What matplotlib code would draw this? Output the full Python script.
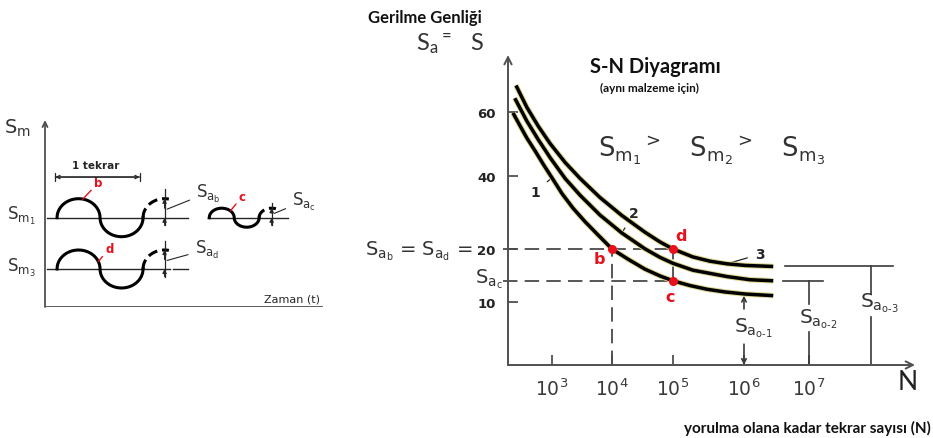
import numpy as np
import matplotlib
matplotlib.use("Agg")
import matplotlib.pyplot as plt
from matplotlib import patheffects as pe

plt.rcParams["mathtext.default"] = "regular"
plt.rcParams["font.family"] = "DejaVu Sans"

W, H = 933, 439
INK = "#262626"
AXIS = "#505050"
RED = "#e8101a"
SANS2 = "Lato"

# ---------------- S-N diagram data: log10(N) and stress amplitude ----------------
curve1_logN = [2.35, 2.47, 2.58, 2.72, 2.85, 3.00, 3.17, 3.35, 3.55, 3.77, 4.00,
               4.26, 4.54, 4.79, 5.00, 5.24, 5.48, 5.73, 6.02, 6.45]
curve1_S = [59.7, 55.6, 51.9, 47.8, 43.8, 39.5, 35.1, 31.2, 27.5, 23.8, 20.0,
            18.1, 16.2, 14.9, 14.0, 13.1, 12.4, 11.9, 11.5, 11.2]
curve2_logN = [2.38, 2.58, 2.77, 2.97, 3.22, 3.47, 3.80, 4.16, 4.54, 4.79, 5.00,
               5.28, 5.76, 6.09, 6.45]
curve2_S = [64.3, 57.2, 51.4, 45.7, 39.3, 34.7, 29.3, 24.4, 20.05, 18.4, 17.3,
            16.0, 14.8, 14.2, 14.0]
curve3_logN = [2.40, 2.58, 2.77, 2.97, 3.22, 3.47, 3.80, 4.16, 4.54, 4.79, 5.00,
               5.28, 5.52, 5.76, 6.02, 6.45]
curve3_S = [68.3, 61.5, 55.6, 50.1, 44.2, 39.3, 34.1, 29.2, 24.6, 21.9, 20.0,
            18.5, 17.7, 17.2, 16.9, 16.7]
curve_names = ["1", "2", "3"]

point_names = ["b", "d", "c"]
point_logN = [4.0, 5.0, 5.0]
point_S = [20.0, 20.0, 14.0]

endurance_logN = [6.0, 7.0, 7.95]
endurance_S = [11.2, 14.0, 16.7]
endurance_names = [r"$S_{a_{o\text{-}1}}$", r"$S_{a_{o\text{-}2}}$", r"$S_{a_{o\text{-}3}}$"]

x_tick_exps = [3, 4, 5, 6, 7]
y_ticks = [10, 20, 40, 60]

# ---------------- time-history sketch data (schematic units) ----------------
wave_names = ["b", "d", "c"]
wave_mean = [4.7, 2.0, 4.7]
wave_amp = [1.0, 1.0, 0.5]
wave_period = [1.0, 1.0, 0.58]
wave_start = [0.14, 0.14, 1.91]


def fxy(px, py):
    return px / W, 1 - py / H


fig = plt.figure(figsize=(W / 100, H / 100), dpi=100)

# ======================= right: S-N diagram =======================
# non-uniform schematic axis spacing
E_NODES = np.array([2, 3, 4, 5, 6, 7, 8, 9], float)
EX_NODES = np.array([492, 552, 612, 673, 744, 809, 874, 939], float)
S_NODES = np.array([0, 10, 20, 40, 60, 100], float)
SU_NODES = np.array([0, 63, 116, 189, 253, 381], float)

ax = fig.add_axes([508 / W, 1 - 366 / H, (915 - 508) / W, (366 - 56) / H])
ax.set_xscale("function", functions=(lambda e: np.interp(e, E_NODES, EX_NODES),
                                     lambda p: np.interp(p, EX_NODES, E_NODES)))
ax.set_yscale("function", functions=(lambda s: np.interp(s, S_NODES, SU_NODES),
                                     lambda u: np.interp(u, SU_NODES, S_NODES)))
ax.set_xlim(2.267, 8.631)
ax.set_ylim(0, 77.8)
for sp in ax.spines.values():
    sp.set_visible(False)
ax.patch.set_alpha(0)

arrow_kw = dict(arrowstyle="->", color=AXIS, lw=1.4, shrinkA=0, shrinkB=0, mutation_scale=13)
ax.annotate("", xy=(1, 0), xytext=(0, 0), xycoords="axes fraction", arrowprops=arrow_kw)
ax.annotate("", xy=(0, 1), xytext=(0, 0), xycoords="axes fraction", arrowprops=arrow_kw)

ax.set_xticks(x_tick_exps)
ax.set_xticklabels([rf"$10^{{{e}}}$" for e in x_tick_exps])
ax.tick_params(axis="x", direction="in", length=7, width=1.3, color=AXIS,
               pad=9, labelsize=13.5, labelcolor="#3a3a3a")
ax.set_yticks(y_ticks)
ax.set_yticklabels([str(v) for v in y_ticks], fontweight="bold")
ax.tick_params(axis="y", direction="in", length=7, width=1.3, color=AXIS,
               pad=9, labelsize=9.5, labelcolor="#222222")

# dashed guide lines to b, d, c
dash = dict(color="#4a4a4a", lw=1.3, linestyle=(0, (8, 4)), clip_on=False)
ax.plot([2.18, point_logN[1]], [point_S[0], point_S[1]], **dash)
ax.plot([2.18, point_logN[2]], [point_S[2], point_S[2]], **dash)
ax.plot([point_logN[0], point_logN[0]], [0, point_S[0]], **dash)
ax.plot([point_logN[1], point_logN[2]], [point_S[2], point_S[1]], **dash)

# S-N curves
glow = [pe.Stroke(linewidth=3.9, foreground="#ddd48c"), pe.Normal()]
curves = [(curve1_logN, curve1_S), (curve2_logN, curve2_S), (curve3_logN, curve3_S)]
for xs, ys in curves:
    ax.plot(xs, ys, color="black", lw=2.5, solid_capstyle="butt",
            solid_joinstyle="round", path_effects=glow, zorder=4)

# curve numbers with leader lines
num_xy = [(curve1_logN[5], curve1_S[5]), (curve2_logN[7], curve2_S[7]), (curve3_logN[13], curve3_S[13])]
num_off = [(-12, -10), (9, 14), (24, 7)]
for name, xy, off in zip(curve_names, num_xy, num_off):
    ax.annotate(name, xy=xy, xytext=off, textcoords="offset points", fontsize=10,
                fontweight="bold", color=INK, ha="center", va="center",
                arrowprops=dict(arrowstyle="-", color=INK, lw=0.9, shrinkA=4, shrinkB=1))

# marked points
ax.plot(point_logN, point_S, "o", color=RED, ms=5.5, zorder=5, clip_on=False)
pt_off = [(-9, -7), (6, 10), (-2, -11)]
for name, x, y, off in zip(point_names, point_logN, point_S, pt_off):
    ax.annotate(name, xy=(x, y), xytext=off, textcoords="offset points", fontsize=11.5,
                fontweight="bold", color=RED, ha="center", va="center")

# endurance limits
bar_ranges = [None, (6.6, 7.215), (6.63, 8.29)]
gaps = [(8.9, 3.3), (9.7, 5.2), (11.5, 7.6)]
lab_pos = [(6.14, 6.0), (7.14, 7.5), (8.08, 10.0)]
thin = dict(color="#3a3a3a", lw=1.2)
for i, (e, s) in enumerate(zip(endurance_logN, endurance_S)):
    if bar_ranges[i] is not None:
        ax.plot(bar_ranges[i], [s, s], clip_on=False, **thin)
    top, bot = gaps[i]
    if i == 0:
        ax.annotate("", xy=(e, s), xytext=(e, top),
                    arrowprops=dict(arrowstyle="->", shrinkA=0, shrinkB=0, mutation_scale=8, **thin))
        ax.annotate("", xy=(e, 0), xytext=(e, bot),
                    arrowprops=dict(arrowstyle="->", shrinkA=0, shrinkB=0, mutation_scale=8, **thin))
    else:
        ax.plot([e, e], [s, top], **thin)
        ax.plot([e, e], [bot, 0], **thin)
    ax.text(lab_pos[i][0], lab_pos[i][1], endurance_names[i], fontsize=14.5,
            color="#333333", ha="center", va="center", clip_on=False)

# right-panel titles and labels
fig.text(*fxy(425, 18), "Gerilme Genliği", family=SANS2, fontweight="bold",
         fontsize=12, color="#111111", ha="center", va="center")
fig.text(*fxy(416, 44), r"$S_{a}{}^{=}\ \ S$", family=SANS2, fontsize=17,
         color="#333333", ha="left", va="center")
fig.text(*fxy(590, 67), "S-N Diyagramı", family=SANS2, fontweight="bold",
         fontsize=14.5, color="#111111", ha="left", va="center")
fig.text(*fxy(600, 88), "(aynı malzeme için)", family=SANS2, fontweight="bold",
         fontsize=8.5, color="#111111", ha="left", va="center")
fig.text(*fxy(598, 150), r"$S_{m_1}{}^{>}\ \ \ S_{m_2}{}^{>}\ \ \ S_{m_3}$",
         fontsize=18.5, color="#333333", ha="left", va="center")
fig.text(*fxy(472, 251), r"$S_{a_b}$ = $S_{a_d}$ =", fontsize=14, color="#333333",
         ha="right", va="center")
fig.text(*fxy(503, 279), r"$S_{a_c}$", fontsize=14, color="#333333",
         ha="right", va="center")
fig.text(*fxy(908, 383), "N", family=SANS2, fontsize=19, color="#222222",
         ha="center", va="center")
fig.text(*fxy(931, 428), "yorulma olana kadar tekrar sayısı (N)", family=SANS2,
         fontweight="bold", fontsize=11, color="#111111", ha="right", va="center")

# ======================= left: stress-time sketch =======================
axl = fig.add_axes([45 / W, 1 - 308 / H, (340 - 45) / W, (308 - 100) / H])
axl.set_xlim(0, 295 / 86)
axl.set_ylim(0, 208 / 19)
axl.axis("off")
axl.annotate("", xy=(0, 9.84), xytext=(0, 0),
             arrowprops=dict(arrowstyle="->", color=AXIS, lw=1.3, shrinkA=0, shrinkB=0, mutation_scale=9))
axl.plot([0, 3.22], [0, 0], color=AXIS, lw=1.3)


def wave_y(t, t0, period, amp, mean):
    phase = (t - t0) / (period / 2)
    k = np.floor(phase)
    frac = phase - k
    sign = np.where(k % 2 == 0, 1.0, -1.0)
    return mean + sign * amp * np.sqrt(np.clip(1 - (2 * frac - 1) ** 2, 0, 1))


base_ranges = [(0.02, 1.66), (0.02, 1.45), (1.895, 2.83)]
wave_lw = 2.2
for i in range(3):
    t0, per, amp, m = wave_start[i], wave_period[i], wave_amp[i], wave_mean[i]
    b0, b1 = base_ranges[i]
    axl.plot([b0, b1], [m, m], color=INK, lw=1.0)
    if i == 1:
        axl.plot([1.49, 1.66], [m, m], color=INK, lw=1.0)
    t = np.linspace(t0, t0 + per, 400)
    axl.plot(t, wave_y(t, t0, per, amp, m), color="black", lw=wave_lw)
    t2 = np.linspace(t0 + per, t0 + 1.25 * per + 0.05, 80)
    axl.plot(t2, wave_y(t2, t0, per, amp, m), color="black", lw=wave_lw,
             linestyle=(0, (3.2, 1.6)))
    tp = t0 + 1.25 * per
    axl.plot([tp, tp], [m - 0.4, m + 1.5 * amp], color=INK, lw=0.9)
    axl.annotate("", xy=(tp, m + amp), xytext=(tp, m + amp * 0.5),
                 arrowprops=dict(arrowstyle="-|>", color=INK, lw=0.8, mutation_scale=6, shrinkA=0, shrinkB=0))
    axl.annotate("", xy=(tp, m), xytext=(tp, m - 0.4),
                 arrowprops=dict(arrowstyle="-|>", color=INK, lw=0.8, mutation_scale=6, shrinkA=0, shrinkB=0))

# wave amplitude labels with leader lines
sa_labels = [r"$S_{a_b}$", r"$S_{a_d}$", r"$S_{a_c}$"]
sa_off = [(21, 12), (20, 8), (13, 9)]
for i in range(3):
    tp = wave_start[i] + 1.25 * wave_period[i]
    axl.annotate(sa_labels[i], xy=(tp + 0.03, wave_mean[i] + 0.45 * wave_amp[i]),
                 xytext=sa_off[i], textcoords="offset points", fontsize=12,
                 color="#333333", ha="left", va="center",
                 arrowprops=dict(arrowstyle="-", color=INK, lw=0.8, shrinkA=3, shrinkB=0))

# red point letters on the waves
lt_phase = [0.3, 0.48, 0.425]
lt_off = [(8, 7), (5, 5), (6, 6)]
for i in range(3):
    t0, per = wave_start[i], wave_period[i]
    tt = t0 + lt_phase[i] * per
    yy = float(wave_y(np.array([tt]), t0, per, wave_amp[i], wave_mean[i])[0])
    axl.annotate(wave_names[i], xy=(tt, yy), xytext=lt_off[i], textcoords="offset points",
                 fontsize=8.5, fontweight="bold", color=RED, ha="left", va="bottom",
                 arrowprops=dict(arrowstyle="-", color=RED, lw=1.0, shrinkA=0, shrinkB=0))

fig.text(*fxy(4, 128), r"$S_m$", fontsize=14, color="#333333", ha="left", va="center")
fig.text(*fxy(7, 216), r"$S_{m_1}$", fontsize=12, color="#333333", ha="left", va="center")
fig.text(*fxy(7, 268), r"$S_{m_3}$", fontsize=12, color="#333333", ha="left", va="center")
fig.text(*fxy(96, 166), "1 tekrar", fontsize=7.5, fontweight="bold", color=INK,
         ha="center", va="center")
axl.annotate("", xy=(wave_start[0] + wave_period[0] - 0.04, 6.84), xytext=(0.12, 6.84),
             arrowprops=dict(arrowstyle="|-|", color=INK, lw=0.9, mutation_scale=3, shrinkA=0, shrinkB=0))
axl.annotate("", xy=(wave_start[0] + wave_period[0] - 0.04, 6.84), xytext=(0.12, 6.84),
             arrowprops=dict(arrowstyle="<->", color=INK, lw=0.9, mutation_scale=6, shrinkA=0, shrinkB=0))
fig.text(*fxy(320, 300), "Zaman (t)", fontsize=8, color=INK, ha="right", va="center")

fig.savefig("out.png", dpi=100)
